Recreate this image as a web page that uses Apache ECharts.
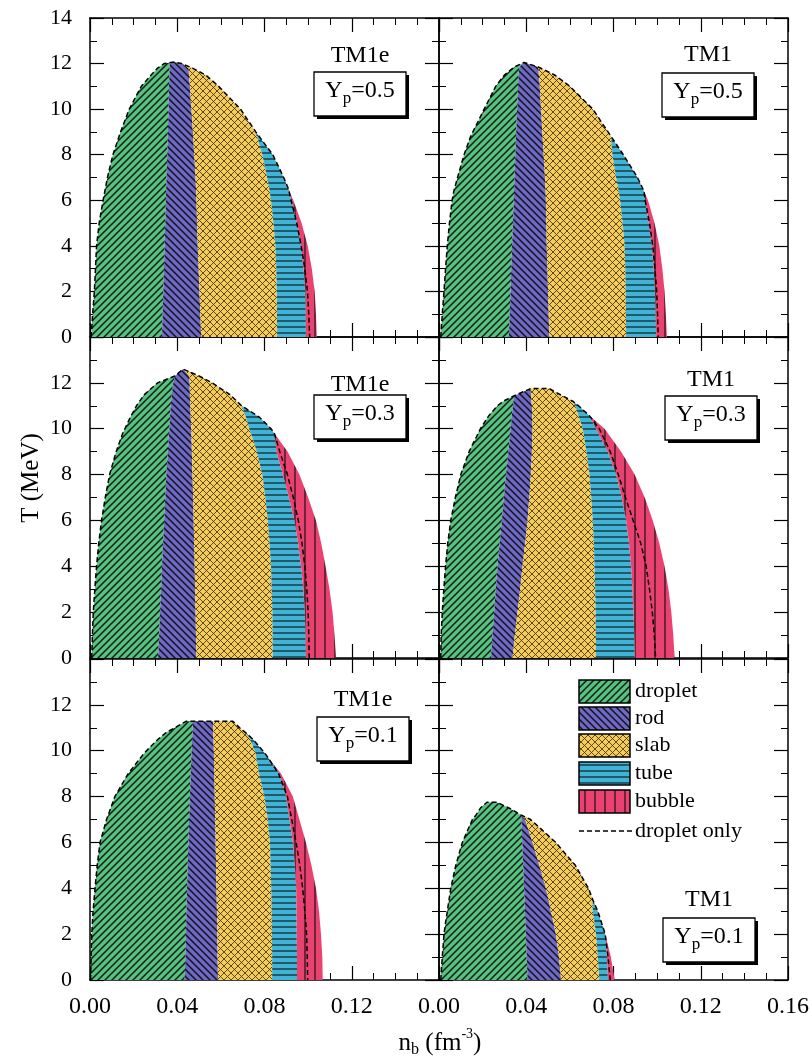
<!DOCTYPE html>
<html><head><meta charset="utf-8">
<script src="https://cdn.jsdelivr.net/npm/echarts/dist/echarts.min.js"></script>
<style>html,body{margin:0;padding:0;background:#fff}#c{width:812px;height:1057px}</style>
</head><body><div id="c"></div>
<script>
// ---------------- data ----------------
const phases = ['droplet', 'rod', 'slab', 'tube', 'bubble'];
const panelModels = ['TM1e', 'TM1', 'TM1e', 'TM1', 'TM1e', 'TM1'];
const panelYp = ['0.5', '0.5', '0.3', '0.3', '0.1', '0.1'];
const xTickLabels = ['0.00', '0.04', '0.08', '0.12', '0.16'];
const yTickLabels = ['0', '2', '4', '6', '8', '10', '12', '14'];
// columns: T (MeV), left edge, droplet|rod, rod|slab, slab|tube, tube|bubble, right edge, droplet-only right edge  (n_b in fm^-3)
const TM1e_Yp05 = [
  [0,    0.0005, 0.0330, 0.0510, 0.0858, 0.0990, 0.1040, 0.1007],
  [1,    0.0012, 0.0333, 0.0506, 0.0857, 0.0989, 0.1036, 0.1003],
  [2,    0.0020, 0.0336, 0.0502, 0.0856, 0.0987, 0.1030, 0.0997],
  [3,    0.0025, 0.0339, 0.0498, 0.0854, 0.0979, 0.1017, 0.0985],
  [4,    0.0030, 0.0342, 0.0494, 0.0850, 0.0968, 0.0998, 0.0968],
  [5,    0.0042, 0.0345, 0.0491, 0.0841, 0.0950, 0.0970, 0.0948],
  [6,    0.0060, 0.0348, 0.0488, 0.0830, 0.0924, 0.0932, 0.0922],
  [6.5,  0.0070, 0.0349, 0.0486, 0.0822, 0.0910, 0.0910, 0.0910],
  [7,    0.0080, 0.0351, 0.0484, 0.0812, 0.0888, 0.0888, 0.0888],
  [8,    0.0105, 0.0354, 0.0478, 0.0790, 0.0838, 0.0838, 0.0838],
  [9,    0.0140, 0.0357, 0.0472, 0.0760, 0.0760, 0.0760, 0.0760],
  [10,   0.0180, 0.0360, 0.0465, 0.0690, 0.0690, 0.0690, 0.0690],
  [11,   0.0235, 0.0362, 0.0458, 0.0590, 0.0590, 0.0590, 0.0590],
  [11.5, 0.0280, 0.0364, 0.0454, 0.0530, 0.0530, 0.0530, 0.0530],
  [11.8, 0.0310, 0.0365, 0.0452, 0.0470, 0.0470, 0.0470, 0.0470],
  [12,   0.0340, 0.0366, 0.0420, 0.0420, 0.0420, 0.0420, 0.0420],
  [12.07,0.0385, 0.0385, 0.0385, 0.0385, 0.0385, 0.0385, 0.0385]
];
const TM1_Yp05 = [
  [0,    0.0008, 0.0320, 0.0506, 0.0858, 0.0996, 0.1045, 0.1005],
  [1,    0.0015, 0.0324, 0.0503, 0.0857, 0.0993, 0.1040, 0.1002],
  [2,    0.0023, 0.0328, 0.0500, 0.0856, 0.0990, 0.1034, 0.0998],
  [3,    0.0030, 0.0331, 0.0497, 0.0854, 0.0984, 0.1024, 0.0990],
  [4,    0.0038, 0.0335, 0.0494, 0.0851, 0.0977, 0.1010, 0.0980],
  [5,    0.0048, 0.0339, 0.0492, 0.0842, 0.0962, 0.0988, 0.0965],
  [6,    0.0060, 0.0343, 0.0490, 0.0830, 0.0945, 0.0958, 0.0945],
  [6.4,  0.0068, 0.0344, 0.0489, 0.0824, 0.0940, 0.0940, 0.0940],
  [7,    0.0085, 0.0346, 0.0486, 0.0812, 0.0910, 0.0910, 0.0910],
  [8,    0.0115, 0.0350, 0.0480, 0.0795, 0.0845, 0.0845, 0.0845],
  [8.8,  0.0145, 0.0353, 0.0475, 0.0789, 0.0789, 0.0789, 0.0789],
  [10,   0.0207, 0.0358, 0.0468, 0.0705, 0.0705, 0.0705, 0.0705],
  [11,   0.0260, 0.0362, 0.0462, 0.0600, 0.0600, 0.0600, 0.0600],
  [11.5, 0.0300, 0.0365, 0.0458, 0.0530, 0.0530, 0.0530, 0.0530],
  [11.85,0.0345, 0.0368, 0.0455, 0.0455, 0.0455, 0.0455, 0.0455],
  [12.05,0.0390, 0.0390, 0.0390, 0.0390, 0.0390, 0.0390, 0.0390]
];
const TM1e_Yp03 = [
  [0,    0.0008, 0.0312, 0.0488, 0.0838, 0.0990, 0.1128, 0.1005],
  [1,    0.0011, 0.0317, 0.0486, 0.0837, 0.0988, 0.1121, 0.1003],
  [2,    0.0015, 0.0321, 0.0484, 0.0836, 0.0985, 0.1112, 0.1000],
  [3,    0.0022, 0.0326, 0.0482, 0.0833, 0.0978, 0.1098, 0.0994],
  [4,    0.0030, 0.0330, 0.0480, 0.0830, 0.0968, 0.1080, 0.0985],
  [5,    0.0040, 0.0335, 0.0478, 0.0823, 0.0954, 0.1060, 0.0972],
  [6,    0.0053, 0.0340, 0.0475, 0.0815, 0.0937, 0.1036, 0.0955],
  [7,    0.0070, 0.0345, 0.0473, 0.0804, 0.0912, 0.1000, 0.0932],
  [8,    0.0090, 0.0350, 0.0470, 0.0790, 0.0884, 0.0960, 0.0905],
  [9,    0.0120, 0.0357, 0.0467, 0.0765, 0.0855, 0.0906, 0.0870],
  [9.8,  0.0150, 0.0362, 0.0465, 0.0738, 0.0845, 0.0845, 0.0845],
  [10,   0.0160, 0.0364, 0.0464, 0.0730, 0.0830, 0.0830, 0.0830],
  [10.5, 0.0185, 0.0367, 0.0462, 0.0715, 0.0777, 0.0777, 0.0777],
  [11,   0.0213, 0.0370, 0.0460, 0.0695, 0.0695, 0.0695, 0.0695],
  [11.5, 0.0250, 0.0375, 0.0458, 0.0640, 0.0640, 0.0640, 0.0640],
  [12,   0.0310, 0.0382, 0.0457, 0.0560, 0.0560, 0.0560, 0.0560],
  [12.3, 0.0389, 0.0389, 0.0455, 0.0500, 0.0500, 0.0500, 0.0500],
  [12.6, 0.0427, 0.0427, 0.0427, 0.0427, 0.0427, 0.0427, 0.0427]
];
const TM1_Yp03 = [
  [0,    0.0008, 0.0238, 0.0337, 0.0720, 0.0897, 0.1080, 0.0993],
  [1,    0.0010, 0.0245, 0.0348, 0.0719, 0.0895, 0.1074, 0.0987],
  [2,    0.0015, 0.0253, 0.0360, 0.0718, 0.0892, 0.1065, 0.0978],
  [3,    0.0022, 0.0260, 0.0372, 0.0716, 0.0887, 0.1052, 0.0965],
  [4,    0.0030, 0.0268, 0.0383, 0.0713, 0.0881, 0.1034, 0.0950],
  [5,    0.0040, 0.0278, 0.0395, 0.0710, 0.0871, 0.1010, 0.0925],
  [6,    0.0054, 0.0288, 0.0406, 0.0705, 0.0858, 0.0980, 0.0890],
  [7,    0.0075, 0.0297, 0.0414, 0.0698, 0.0838, 0.0943, 0.0855],
  [8,    0.0100, 0.0307, 0.0421, 0.0690, 0.0812, 0.0897, 0.0822],
  [9,    0.0138, 0.0318, 0.0426, 0.0676, 0.0774, 0.0835, 0.0785],
  [10,   0.0190, 0.0328, 0.0429, 0.0659, 0.0720, 0.0759, 0.0735],
  [10.56,0.0228, 0.0334, 0.0428, 0.0640, 0.0690, 0.0690, 0.0690],
  [11,   0.0268, 0.0339, 0.0426, 0.0625, 0.0640, 0.0640, 0.0640],
  [11.2, 0.0295, 0.0341, 0.0424, 0.0613, 0.0613, 0.0613, 0.0613],
  [11.44,0.0345, 0.0345, 0.0422, 0.0565, 0.0565, 0.0565, 0.0565],
  [11.75,0.0420, 0.0420, 0.0420, 0.0505, 0.0505, 0.0505, 0.0505]
];
const TM1e_Yp01 = [
  [0,    0.0003, 0.0434, 0.0587, 0.0835, 0.0949, 0.1067, 0.0998],
  [1,    0.0005, 0.0437, 0.0585, 0.0835, 0.0949, 0.1065, 0.0996],
  [2,    0.0008, 0.0440, 0.0584, 0.0834, 0.0948, 0.1059, 0.0993],
  [3,    0.0014, 0.0442, 0.0582, 0.0833, 0.0947, 0.1050, 0.0985],
  [4,    0.0023, 0.0445, 0.0580, 0.0831, 0.0945, 0.1036, 0.0975],
  [5,    0.0033, 0.0448, 0.0578, 0.0828, 0.0939, 0.1015, 0.0962],
  [6,    0.0046, 0.0451, 0.0576, 0.0825, 0.0930, 0.0990, 0.0945],
  [7,    0.0076, 0.0454, 0.0574, 0.0815, 0.0915, 0.0960, 0.0925],
  [8,    0.0114, 0.0458, 0.0572, 0.0800, 0.0899, 0.0930, 0.0905],
  [9,    0.0175, 0.0462, 0.0570, 0.0775, 0.0869, 0.0876, 0.0865],
  [9.85, 0.0245, 0.0465, 0.0568, 0.0760, 0.0805, 0.0805, 0.0805],
  [10,   0.0259, 0.0466, 0.0568, 0.0755, 0.0792, 0.0792, 0.0792],
  [10.5, 0.0312, 0.0468, 0.0566, 0.0735, 0.0747, 0.0747, 0.0747],
  [10.8, 0.0350, 0.0470, 0.0565, 0.0712, 0.0712, 0.0712, 0.0712],
  [11,   0.0389, 0.0471, 0.0565, 0.0686, 0.0686, 0.0686, 0.0686],
  [11.28,0.0440, 0.0472, 0.0564, 0.0655, 0.0655, 0.0655, 0.0655]
];
const TM1_Yp01 = [
  [0,    0.0008, 0.0406, 0.0560, 0.0735, 0.0775, 0.0805, 0.0785],
  [1,    0.0015, 0.0402, 0.0550, 0.0728, 0.0770, 0.0788, 0.0775],
  [2,    0.0023, 0.0398, 0.0536, 0.0720, 0.0762, 0.0762, 0.0762],
  [2.5,  0.0030, 0.0396, 0.0525, 0.0713, 0.0745, 0.0745, 0.0745],
  [3,    0.0038, 0.0394, 0.0513, 0.0705, 0.0728, 0.0728, 0.0728],
  [3.5,  0.0046, 0.0392, 0.0502, 0.0705, 0.0705, 0.0705, 0.0705],
  [4,    0.0054, 0.0390, 0.0490, 0.0685, 0.0685, 0.0685, 0.0685],
  [5,    0.0077, 0.0386, 0.0460, 0.0625, 0.0625, 0.0625, 0.0625],
  [6,    0.0107, 0.0382, 0.0429, 0.0535, 0.0535, 0.0535, 0.0535],
  [7,    0.0153, 0.0378, 0.0395, 0.0420, 0.0420, 0.0420, 0.0420],
  [7.2,  0.0170, 0.0376, 0.0376, 0.0376, 0.0376, 0.0376, 0.0376],
  [7.5,  0.0190, 0.0322, 0.0322, 0.0322, 0.0322, 0.0322, 0.0322],
  [7.75, 0.0220, 0.0265, 0.0265, 0.0265, 0.0265, 0.0265, 0.0265]
];
const panelTables = [TM1e_Yp05, TM1_Yp05, TM1e_Yp03, TM1_Yp03, TM1e_Yp01, TM1_Yp01];

// ---------------- styles / layout ----------------
const SERIF = '"Liberation Serif", "Times New Roman", serif';
const phaseColors = ['#55c27f', '#6d69c4', '#f4cc5c', '#40b4d6', '#ea4270'];
const phaseHatch = ['up', 'down', 'cross', 'horiz', 'vert'];
const colLeft = [90, 439];
const colW = 349;
const rowTop = [18, 337, 659];
const rowH = [319, 321, 321];
const labelLayout = [
  {cx: 360, ty: 56, by: 72}, {cx: 708, ty: 55, by: 73},
  {cx: 360, ty: 385, by: 395}, {cx: 711, ty: 380, by: 396},
  {cx: 363, ty: 700, by: 717}, {cx: 709, ty: 900, by: 918}
];

function makeHatch(bg, kind) {
  const s = kind === 'horiz' ? 6 : kind === 'vert' ? 10 : 7;
  const cv = document.createElement('canvas');
  cv.width = s; cv.height = s;
  const g = cv.getContext('2d');
  g.fillStyle = bg; g.fillRect(0, 0, s, s);
  g.strokeStyle = kind === 'cross' ? 'rgba(70,48,0,0.85)' : 'rgba(10,10,10,0.9)';
  g.lineWidth = kind === 'cross' ? 1.0 : (kind === 'up' || kind === 'down') ? 1.5 : 1.2;
  g.beginPath();
  const seg = (a, b, c, d) => { g.moveTo(a, b); g.lineTo(c, d); };
  if (kind === 'up' || kind === 'cross') { seg(-1, s + 1, s + 1, -1); seg(-1, 1, 1, -1); seg(s - 1, s + 1, s + 1, s - 1); }
  if (kind === 'down' || kind === 'cross') { seg(-1, -1, s + 1, s + 1); seg(s - 1, -1, s + 1, 1); seg(-1, s - 1, 1, s + 1); }
  if (kind === 'horiz') seg(0, s / 2, s, s / 2);
  if (kind === 'vert') seg(s / 2, 0, s / 2, s);
  g.stroke();
  return {image: cv, repeat: 'repeat'};
}
const patterns = phaseColors.map((c, i) => makeHatch(c, phaseHatch[i]));

const mctx = document.createElement('canvas').getContext('2d');
function tw(t, size) { mctx.font = size + 'px ' + SERIF; return mctx.measureText(t).width; }
function textEl(t, x, y, size, align, extra) {
  return Object.assign({type: 'text', x: x, y: y, z: 100,
    style: {text: t, font: size + 'px ' + SERIF, fill: '#000', align: align || 'center', verticalAlign: 'middle',
      textAlign: align || 'center', textVerticalAlign: 'middle'}}, extra || {});
}
function runs(parts, cx, cy) {
  const total = parts.reduce((s, p) => s + tw(p.t, p.size), 0);
  let x = cx - total / 2; const out = [];
  parts.forEach(p => { out.push(textEl(p.t, x, cy + p.dy, p.size, 'left')); x += tw(p.t, p.size); });
  return out;
}

// ---------------- option ----------------
const grids = [], xAxes = [], yAxes = [], series = [];
const axLine = {show: true, onZero: false, lineStyle: {color: '#000', width: 1.5}};
const tick = {show: true, inside: true, length: 14, lineStyle: {color: '#000', width: 1.2}};
const minor = n => ({show: true, splitNumber: n, length: 7, lineStyle: {color: '#000', width: 1}});

panelTables.forEach((rows, p) => {
  const r = Math.floor(p / 2), c = p % 2;
  grids.push({left: colLeft[c], top: rowTop[r], width: colW, height: rowH[r], containLabel: false, outerBoundsMode: 'none'});
  const xBase = {gridIndex: p, type: 'value', min: 0, max: 0.16, interval: 0.04, axisLine: axLine, axisTick: tick,
    minorTick: minor(4), splitLine: {show: false}, minorSplitLine: {show: false}};
  xAxes.push(Object.assign({}, xBase, {position: 'bottom', axisLabel: {show: r === 2, color: '#000', fontSize: 24,
    fontFamily: SERIF, margin: 15, showMinLabel: true, showMaxLabel: c === 1, hideOverlap: false,
    formatter: v => xTickLabels[Math.round(v / 0.04)]}}));
  xAxes.push(Object.assign({}, xBase, {position: 'top', axisLabel: {show: false}}));
  const yBase = {gridIndex: p, type: 'value', min: 0, max: 14, interval: 2, axisLine: axLine, axisTick: tick,
    minorTick: minor(2), splitLine: {show: false}, minorSplitLine: {show: false}};
  yAxes.push(Object.assign({}, yBase, {position: 'left', axisLabel: {show: c === 0, color: '#000', fontSize: 22,
    fontFamily: SERIF, margin: 18, showMinLabel: true, showMaxLabel: r === 0, hideOverlap: false,
    formatter: v => yTickLabels[Math.round(v / 2)]}}));
  yAxes.push(Object.assign({}, yBase, {position: 'right', axisLabel: {show: false}}));

  phases.forEach((ph, k) => {
    const verts = rows.map(row => [row[1 + k], row[0]])
      .concat(rows.slice().reverse().map(row => [row[2 + k], row[0]]));
    series.push({type: 'custom', name: ph, xAxisIndex: 2 * p, yAxisIndex: 2 * p, data: verts, z: 2, silent: true, clip: true,
      renderItem: (params, api) => {
        if (params.dataIndex !== 0) return null;
        return {type: 'polygon', shape: {points: verts.map(v => api.coord(v))}, style: {fill: patterns[k], stroke: null}};
      }});
  });
  const dash = rows.map(row => [row[1], row[0]]).concat(rows.slice().reverse().map(row => [row[7], row[0]]));
  series.push({type: 'line', name: 'droplet only', xAxisIndex: 2 * p, yAxisIndex: 2 * p, data: dash, z: 3, silent: true,
    symbol: 'none', showSymbol: false, smooth: false, lineStyle: {color: '#000', width: 1.5, type: [5, 3]}});
});

// annotations
const graphics = [];
panelModels.forEach((m, p) => {
  const L = labelLayout[p], bw = 92, bh = 44, bx = L.cx - bw / 2, by = L.by;
  graphics.push(textEl(m, L.cx, L.ty, 24, 'center'));
  graphics.push({type: 'rect', z: 99, shape: {x: bx + 3, y: by + 3, width: bw, height: bh}, style: {fill: '#000'}});
  graphics.push({type: 'rect', z: 99, shape: {x: bx, y: by, width: bw, height: bh}, style: {fill: '#fff', stroke: '#000', lineWidth: 1.3}});
  runs([{t: 'Y', size: 24, dy: -3}, {t: 'p', size: 17, dy: 5}, {t: '=' + panelYp[p], size: 24, dy: -3}], L.cx, by + bh / 2)
    .forEach(e => graphics.push(e));
});
// legend
const legX = 579, legW = 51, legH = 23, legTops = [680, 707, 734, 762, 790];
phases.forEach((ph, k) => {
  graphics.push({type: 'rect', z: 99, shape: {x: legX, y: legTops[k], width: legW, height: legH},
    style: {fill: patterns[k], stroke: '#000', lineWidth: 1.5}});
  graphics.push(textEl(ph, legX + legW + 5, legTops[k] + legH / 2, 22, 'left'));
});
graphics.push({type: 'line', z: 99, shape: {x1: legX, y1: 831, x2: legX + legW + 2, y2: 831},
  style: {stroke: '#000', lineWidth: 1.5, lineDash: [5, 3]}});
graphics.push(textEl('droplet only', legX + legW + 5, 831, 22, 'left'));
// axis titles
graphics.push(textEl('T (MeV)', 31, 478, 25, 'center', {rotation: Math.PI / 2}));
runs([{t: 'n', size: 25, dy: 0}, {t: 'b', size: 16, dy: 7}, {t: ' (fm', size: 25, dy: 0}, {t: '-3', size: 14, dy: -9}, {t: ')', size: 25, dy: 0}], 440, 1043)
  .forEach(e => graphics.push(e));

const chart = echarts.init(document.getElementById('c'), null, {renderer: 'canvas'});
chart.setOption({
  animation: false,
  backgroundColor: '#fff',
  textStyle: {fontFamily: SERIF},
  grid: grids, xAxis: xAxes, yAxis: yAxes, series: series,
  graphic: {elements: graphics}
});
</script></body></html>
